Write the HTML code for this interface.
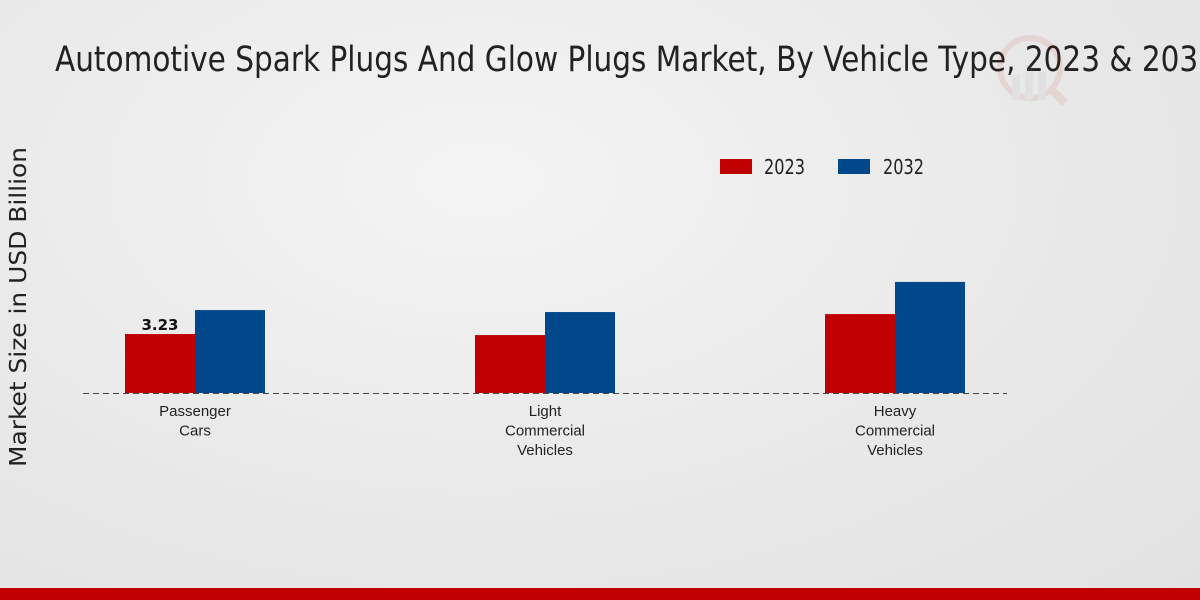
<!DOCTYPE html>
<html><head><meta charset="utf-8"><style>
html,body{margin:0;padding:0;width:1200px;height:600px;overflow:hidden;}
body{background:radial-gradient(ellipse at 40% 30%,#f4f4f4 0%,#e8e8e8 60%,#e2e2e2 100%);font-family:"Liberation Sans",sans-serif;}
</style></head><body>
<svg id="chart" width="1200" height="600" xmlns="http://www.w3.org/2000/svg" style="position:absolute;left:0;top:0">
<text x="55" y="71" font-size="35" fill="#222" textLength="1162" lengthAdjust="spacingAndGlyphs" font-family="DejaVu Sans, sans-serif">Automotive Spark Plugs And Glow Plugs Market, By Vehicle Type, 2023 &amp; 2032</text>
<g opacity="0.08">
<circle cx="1030" cy="68" r="30" fill="none" stroke="#c00" stroke-width="6"/>
<rect x="1012" y="75" width="8" height="25" fill="#888"/><rect x="1025" y="65" width="8" height="35" fill="#888"/><rect x="1038" y="72" width="8" height="28" fill="#888"/>
<line x1="1050" y1="88" x2="1065" y2="103" stroke="#c00" stroke-width="8"/>
</g>
<text transform="translate(26,307) rotate(-90)" text-anchor="middle" font-size="23" fill="#222" textLength="320" lengthAdjust="spacingAndGlyphs" font-family="DejaVu Sans, sans-serif">Market Size in USD Billion</text>
<g>
<rect x="720" y="159" width="32" height="15" fill="#c00000"/>
<text x="764" y="174" font-size="20" fill="#222" textLength="41" lengthAdjust="spacingAndGlyphs" font-family="DejaVu Sans, sans-serif">2023</text>
<rect x="838" y="159" width="32" height="15" fill="#00488a"/>
<text x="883" y="174" font-size="20" fill="#222" textLength="41" lengthAdjust="spacingAndGlyphs" font-family="DejaVu Sans, sans-serif">2032</text>
</g>
<g id="bars"></g>
<line x1="83" y1="393.5" x2="1007" y2="393.5" stroke="#444" stroke-dasharray="6,4" stroke-width="1"/>
<g id="labels"></g>
<rect x="0" y="588" width="1200" height="12" fill="#c00000"/>
</svg>
<script>
const categories=[["Passenger","Cars"],["Light","Commercial","Vehicles"],["Heavy","Commercial","Vehicles"]];
const values2023=[3.23,3.17,4.32];
const values2032=[4.54,4.43,6.08];
const printedValues=["3.23",null,null];
const NS="http://www.w3.org/2000/svg";
const base=393,scale=18.27,x0=195,step=350,bw=70;
const y=v=>base-v*scale;
const bars=document.getElementById('bars'),labels=document.getElementById('labels');
categories.forEach((c,i)=>{
  const cx=x0+i*step;
  [[values2023,"#c00000",cx-bw,"2023"],[values2032,"#00488a",cx,"2032"]].forEach(([arr,col,x,s])=>{
    const r=document.createElementNS(NS,'rect');
    r.setAttribute('x',x);r.setAttribute('y',y(arr[i]));r.setAttribute('width',bw);r.setAttribute('height',base-y(arr[i]));r.setAttribute('fill',col);
    
    
    bars.appendChild(r);
  });
  if(printedValues[i]){
    const t=document.createElementNS(NS,'text');
    t.setAttribute('x',cx-bw/2);t.setAttribute('y',y(values2023[i])-4);t.setAttribute('text-anchor','middle');
    t.setAttribute('font-size','15');t.setAttribute('font-weight','bold');t.setAttribute('fill','#111');t.setAttribute('font-family','DejaVu Sans, sans-serif');
    t.textContent=printedValues[i];
    
    
    labels.appendChild(t);
  }
  c.forEach((ln,j)=>{
    const t=document.createElementNS(NS,'text');
    t.setAttribute('x',cx);t.setAttribute('y',416+j*19.5);t.setAttribute('text-anchor','middle');
    t.setAttribute('font-size','15');t.setAttribute('fill','#222');t.setAttribute('font-family','Liberation Sans, sans-serif');
    t.textContent=ln;
    
    
    labels.appendChild(t);
  });
});
</script>
</body></html>
